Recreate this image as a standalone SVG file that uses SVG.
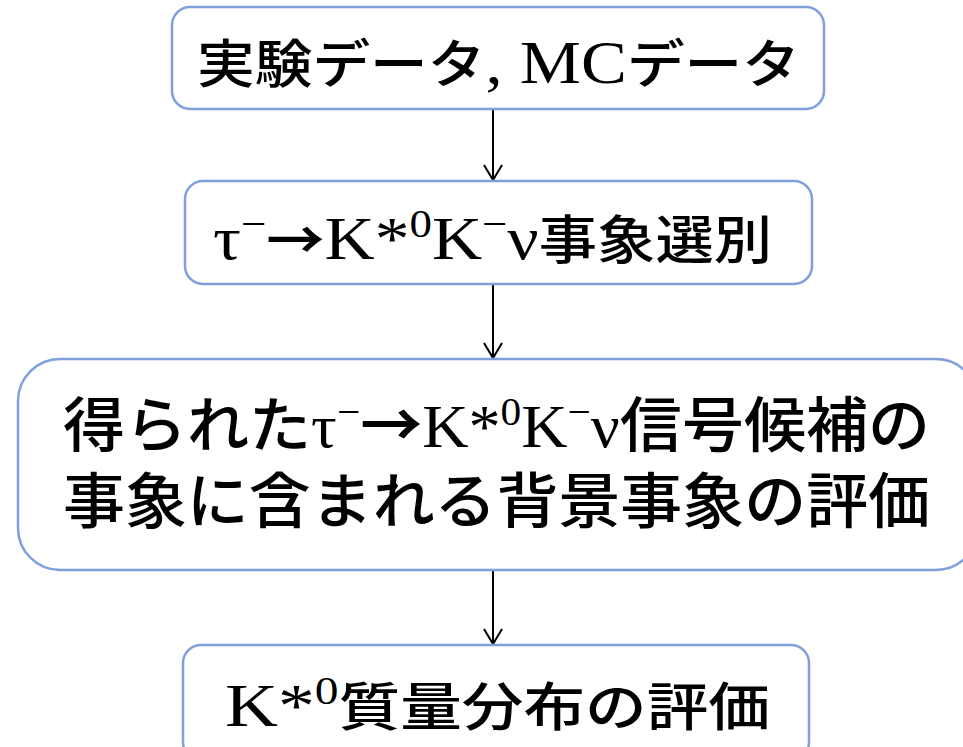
<svg xmlns="http://www.w3.org/2000/svg" width="963" height="747" viewBox="0 0 963 747">
<defs>
<style>
.box{fill:#fff;stroke:#7f9fdd;stroke-width:2.5}
.t{fill:#000;font-family:"Noto Sans CJK JP","Noto Sans CJK SC",sans-serif;font-size:52px;font-weight:500}
.l{font-family:"Liberation Serif","Noto Sans CJK JP",serif;font-size:62px;font-weight:400}
.s{font-family:"Liberation Serif",serif;font-size:40px;font-weight:400}
.a{font-family:"Noto Sans CJK JP",sans-serif;font-weight:700}
.c{stroke:#000;stroke-width:2;fill:none}
</style>
<marker id="ah" markerWidth="22" markerHeight="22" refX="16" refY="10" orient="auto" markerUnits="userSpaceOnUse">
<path d="M1,1 L16,10 L1,19" fill="none" stroke="#000" stroke-width="2"/>
</marker>
</defs>
<rect width="963" height="747" fill="#fff"/>
<g id="connectors">
<line class="c" x1="493" y1="109" x2="493" y2="180" marker-end="url(#ah)"/>
<line class="c" x1="493" y1="284" x2="493" y2="358" marker-end="url(#ah)"/>
<line class="c" x1="493" y1="570" x2="493" y2="644" marker-end="url(#ah)"/>
</g>
<g id="n1">
<rect class="box" x="172" y="7" width="652" height="102" rx="18"/>
<text class="t" x="197" y="83" textLength="603" lengthAdjust="spacingAndGlyphs">実験データ<tspan class="l">, MC</tspan>データ</text>
</g>
<g id="n2">
<rect class="box" x="185" y="181" width="627" height="103" rx="18"/>
<text class="t" x="213" y="259" textLength="559" lengthAdjust="spacingAndGlyphs"><tspan class="l">τ</tspan><tspan class="s" baseline-shift="22">−</tspan><tspan class="a">→</tspan><tspan class="l">K*</tspan><tspan class="s" baseline-shift="22">0</tspan><tspan class="l">K</tspan><tspan class="s" baseline-shift="22">−</tspan><tspan class="l">ν</tspan>事象選別</text>
</g>
<g id="n3">
<rect class="box" x="18" y="359" width="960" height="211" rx="42"/>
<text class="t" x="63" y="447" style="font-size:60px" textLength="867" lengthAdjust="spacingAndGlyphs">得られた<tspan class="l">τ</tspan><tspan class="s" baseline-shift="22">−</tspan><tspan class="a">→</tspan><tspan class="l">K*</tspan><tspan class="s" baseline-shift="22">0</tspan><tspan class="l">K</tspan><tspan class="s" baseline-shift="22">−</tspan><tspan class="l">ν</tspan>信号候補の</text>
<text class="t" x="63" y="523" style="font-size:60px" textLength="867" lengthAdjust="spacingAndGlyphs">事象に含まれる背景事象の評価</text>
</g>
<g id="n4">
<rect class="box" x="183" y="645" width="626" height="115" rx="18"/>
<text class="t" x="225" y="726" textLength="545" lengthAdjust="spacingAndGlyphs"><tspan class="l">K*</tspan><tspan class="s" baseline-shift="22">0</tspan>質量分布の評価</text>
</g>
</svg>
